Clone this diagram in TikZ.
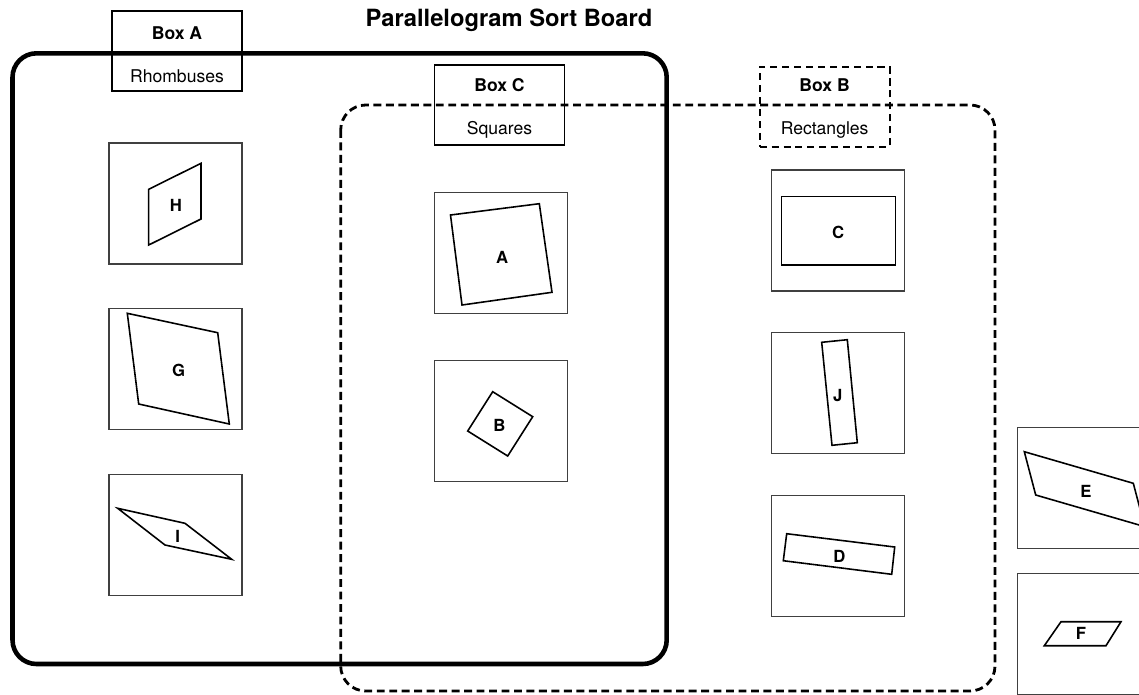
\documentclass[tikz,border=0pt]{standalone}
\usepackage{fontspec}
\setmainfont{TeX Gyre Heros}
\usepackage{tikz}
\usetikzlibrary{positioning}
\tikzstyle{board_solid}=[draw, line width=2.6pt, rounded corners=0.48cm]
\tikzstyle{board_dashed}=[draw, line width=1.6pt, dash pattern=on 4.5pt off 2.6pt, rounded corners=0.5cm]
\tikzstyle{box_head}=[draw, line width=1.1pt, minimum width=2.6cm, minimum height=1.6cm, inner sep=0pt]
\tikzstyle{box_headdash}=[box_head, dash pattern=on 4pt off 2.8pt]
\tikzstyle{head_name}=[anchor=base, inner sep=0pt, font=\fontsize{10}{12}\selectfont\bfseries]
\tikzstyle{head_kind}=[anchor=base, inner sep=0pt, font=\fontsize{10}{12}\selectfont]
\tikzstyle{card}=[draw=black!75, line width=0.6pt, minimum width=2.66cm, minimum height=2.42cm, inner sep=0pt]
\tikzstyle{quad}=[draw, line width=0.9pt, line join=miter]
\tikzstyle{quad_name}=[inner sep=0pt, font=\fontsize{9.5}{11}\selectfont\bfseries]

\begin{document}
\begin{tikzpicture}[x=0.02cm, y=-0.02cm]
		\useasboundingbox (0,0) rectangle (1139,694);
		\clip (0,0) rectangle (1139,694);

		\node[font=\fontsize{13.5}{16}\selectfont\bfseries] (title) at (509,20) {Parallelogram Sort Board};

		% the two sorting regions
		\draw[board_solid] (12.5,53.3) rectangle (666.7,664);
		\draw[board_dashed] (340.7,105) rectangle (995,691);

		% header boxes
		\node[box_head] (boxA) at (177,50.8) {};
		\node[head_name] (boxAname) at (177,39) {Box A};
		\node[head_kind] (boxAkind) at (177,82) {Rhombuses};

		\node[box_head] (boxC) at (499.5,105.3) {};
		\node[head_name] (boxCname) at (499.5,91.5) {Box C};
		\node[head_kind] (boxCkind) at (499.5,134) {Squares};

		\node[box_headdash] (boxB) at (824.6,106.7) {};
		\node[head_name] (boxBname) at (824.6,91.5) {Box B};
		\node[head_kind] (boxBkind) at (824.6,134) {Rectangles};

		% cards
		\node[card] (cardH) at (175.5,203.5) {};
		\node[card, below=0.87cm of cardH] (cardG) {};
		\node[card, below=0.87cm of cardG] (cardI) {};

		\node[card] (cardA) at (500.9,252.8) {};
		\node[card, below=0.92cm of cardA] (cardB) {};

		\node[card] (cardC) at (838,230.5) {};
		\node[card, below=0.81cm of cardC] (cardJ) {};
		\node[card, below=0.81cm of cardJ] (cardD) {};

		\node[card] (cardE) at (1083.8,488.3) {};
		\node[card, below=0.47cm of cardE] (cardF) {};

		% shapes on the cards
		\draw[quad] (148.7,189.3) -- (201,163.3) -- (201,219) -- (148.7,245) -- cycle;
		\node[quad_name] (H) at (176,205) {H};

		\draw[quad] (127.3,313.3) -- (217.7,332.7) -- (229.3,424) -- (138.7,404) -- cycle;
		\node[quad_name] (G) at (178.7,370.7) {G};

		\draw[quad] (117.7,508.3) -- (185,523.3) -- (231.7,559.3) -- (165,545) -- cycle;
		\node[quad_name] (I) at (177.7,536) {I};

		\draw[quad] (450.5,215) -- (539.3,203.7) -- (552,292.3) -- (462,305) -- cycle;
		\node[quad_name] (A) at (502.2,257.3) {A};

		\draw[quad] (492.7,391.7) -- (532.7,416.7) -- (507.7,456) -- (467.7,431) -- cycle;
		\node[quad_name] (B) at (499.3,425) {B};

		\draw[quad] (781.6,196.7) rectangle (895.6,265);
		\node[quad_name] (C) at (838.2,232.7) {C};

		\draw[quad] (821.7,342.3) -- (847.3,339.7) -- (857.3,442.7) -- (832,445.3) -- cycle;
		\node[quad_name] (J) at (837.7,396) {J};

		\draw[quad] (786.7,533.7) -- (894.7,547) -- (891.7,574.3) -- (783.3,560.7) -- cycle;
		\node[quad_name] (D) at (839.3,556.7) {D};

		\draw[quad] (1024.3,451.7) -- (1133.3,483.3) -- (1144.7,526.6) -- (1035.7,495) -- cycle;
		\node[quad_name] (E) at (1086,491.7) {E};

		\draw[quad] (1061,621.7) -- (1121,621.7) -- (1106,645.7) -- (1044.3,645.7) -- cycle;
		\node[quad_name] (F) at (1081,633.3) {F};
\end{tikzpicture}
\end{document}
